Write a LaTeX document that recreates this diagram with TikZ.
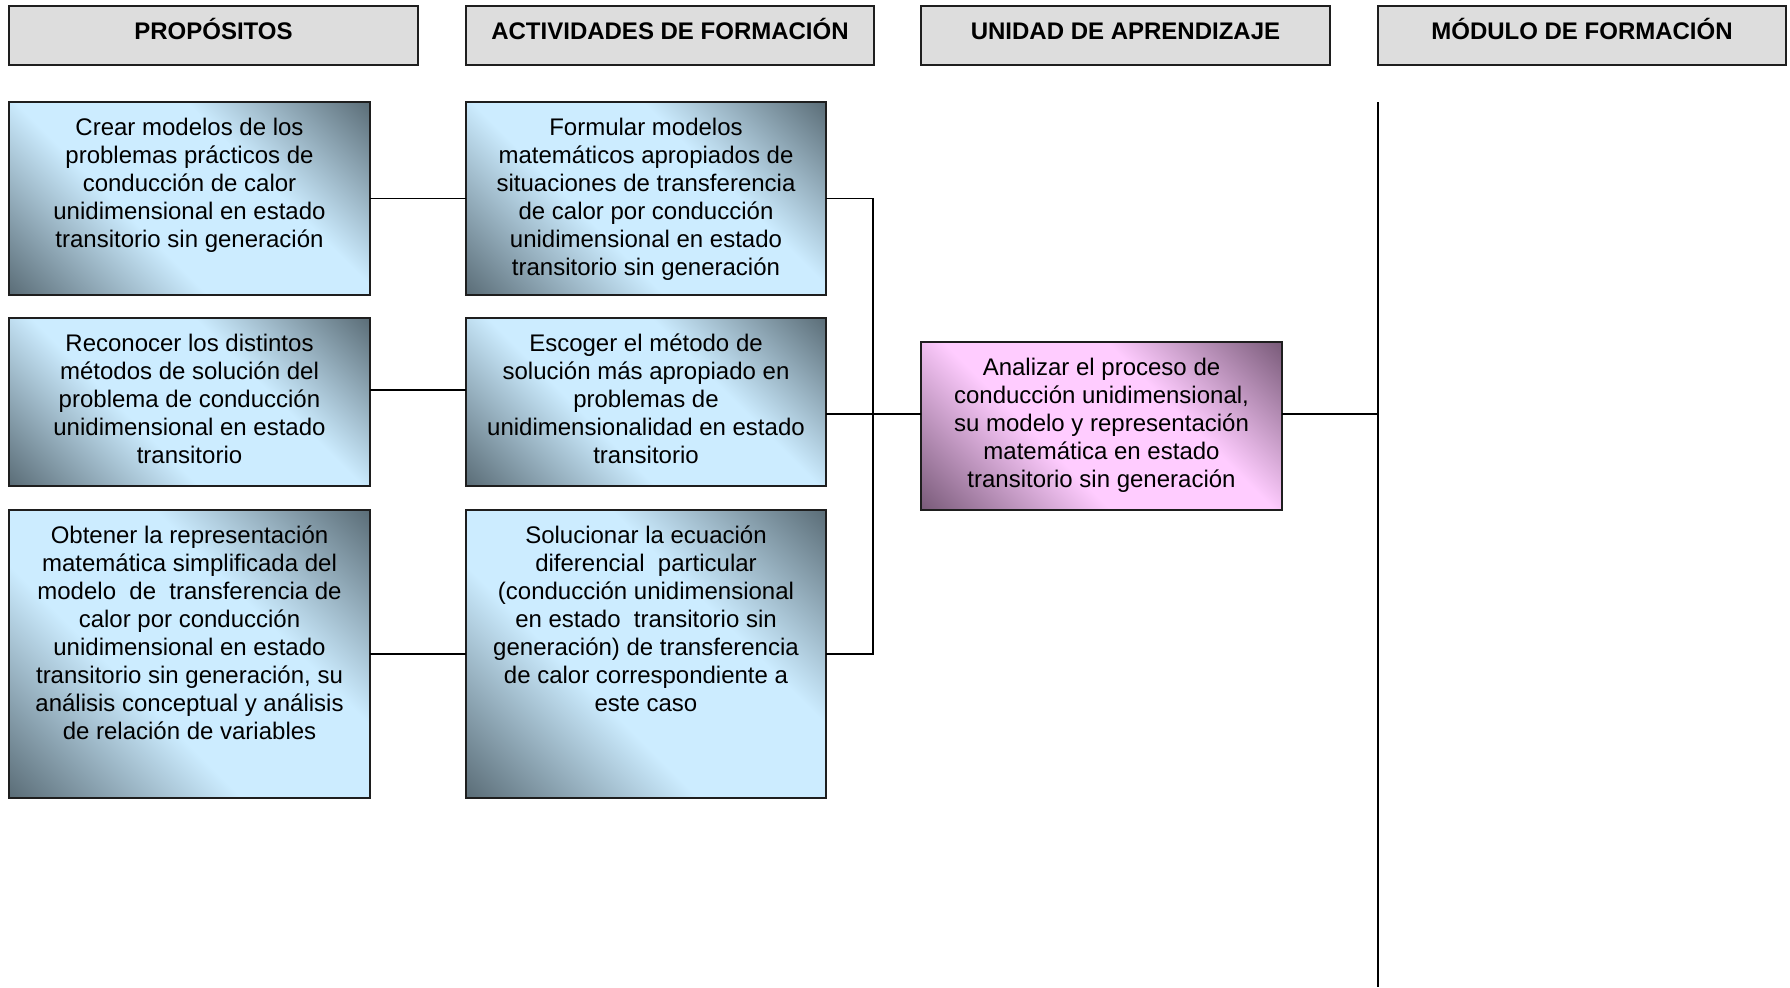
\documentclass[tikz,border=0pt]{standalone}
\usepackage{fontspec}
\setmainfont{Liberation Sans}
\definecolor{blight}{RGB}{204,236,255}
\definecolor{bdark}{RGB}{88,106,116}
\definecolor{plight}{RGB}{255,204,255}
\definecolor{pdark}{RGB}{118,88,118}
\definecolor{hdrfill}{RGB}{221,221,221}
\definecolor{edge}{RGB}{30,30,30}
\pgfdeclareverticalshading{bluediag}{100bp}{color(0bp)=(bdark); color(14bp)=(bdark); color(40bp)=(blight); color(62bp)=(blight); color(86bp)=(bdark); color(100bp)=(bdark)}
\pgfdeclareverticalshading{pinkdiag}{100bp}{color(0bp)=(pdark); color(14bp)=(pdark); color(40bp)=(plight); color(62bp)=(plight); color(86bp)=(pdark); color(100bp)=(pdark)}
\newcommand\bxt[3]{\parbox[c][#1][t]{#2}{\vspace*{13.4bp}\centering\strut #3}}
\begin{document}
\begin{tikzpicture}[x=1bp,y=-1bp,
  every node/.style={font=\fontsize{24bp}{28bp}\selectfont, inner sep=0pt, outer sep=0pt},
  hdr/.style={draw=edge, line width=2bp, fill=hdrfill, anchor=north west,
    minimum height=59bp, text height=17bp, text depth=9bp, font=\fontsize{24bp}{28bp}\selectfont\bfseries},
  bluebox/.style={draw=edge, line width=2bp, anchor=north west, shading=bluediag, shading angle=-45},
  pinkbox/.style={draw=edge, line width=2bp, anchor=north west, shading=pinkdiag, shading angle=-45},
  conn/.style={line width=1.6bp, black}]
\useasboundingbox (0,0) rectangle (1790,987);

% headers
\node[hdr, minimum width=409bp] (h1) at (9,6) {PROPÓSITOS};
\node[hdr, minimum width=408bp] (h2) at (466,6) {ACTIVIDADES DE FORMACIÓN};
\node[hdr, minimum width=409bp] (h3) at (921,6) {UNIDAD DE APRENDIZAJE};
\node[hdr, minimum width=408bp] (h4) at (1378,6) {MÓDULO DE FORMACIÓN};

% propositos
\node[bluebox, minimum width=361bp, minimum height=193bp] (p1) at (9,102)
  {\bxt{193bp}{351bp}{Crear modelos de los\\problemas prácticos de\\conducción de calor\\unidimensional en estado\\transitorio sin generación}};
\node[bluebox, minimum width=361bp, minimum height=168bp] (p2) at (9,318)
  {\bxt{168bp}{351bp}{Reconocer los distintos\\métodos de solución del\\problema de conducción\\unidimensional en estado\\transitorio}};
\node[bluebox, minimum width=361bp, minimum height=288bp] (p3) at (9,510)
  {\bxt{288bp}{351bp}{Obtener la representación\\matemática simplificada del\\modelo\ \ de\ \ transferencia de\\calor por conducción\\unidimensional en estado\\transitorio sin generación, su\\análisis conceptual y análisis\\de relación de variables}};

% actividades
\node[bluebox, minimum width=360bp, minimum height=193bp] (a1) at (466,102)
  {\bxt{193bp}{350bp}{Formular modelos\\matemáticos apropiados de\\situaciones de transferencia\\de calor por conducción\\unidimensional en estado\\transitorio sin generación}};
\node[bluebox, minimum width=360bp, minimum height=168bp] (a2) at (466,318)
  {\bxt{168bp}{350bp}{Escoger el método de\\solución más apropiado en\\problemas de\\unidimensionalidad en estado\\transitorio}};
\node[bluebox, minimum width=360bp, minimum height=288bp] (a3) at (466,510)
  {\bxt{288bp}{350bp}{Solucionar la ecuación\\diferencial\ \ particular\\(conducción unidimensional\\en estado\ \ transitorio sin\\generación) de transferencia\\de calor correspondiente a\\este caso}};

% unidad
\node[pinkbox, minimum width=361bp, minimum height=168bp] (u) at (921,342)
  {\bxt{168bp}{351bp}{Analizar el proceso de\\conducción unidimensional,\\su modelo y representación\\matemática en estado\\transitorio sin generación}};

\coordinate (bus) at (873,0);
\coordinate (vt) at (1378,102);
\coordinate (vb) at (1378,987);

% connectors
\draw[conn] (p1.east) -- (a1.west);
\draw[conn] ([yshift=12bp]p2.east) -- ([yshift=12bp]a2.west);
\draw[conn] (p3.east) -- (a3.west);
\draw[conn] (a1.east) -- (a1.east -| bus) -- (a3.east -| bus) -- (a3.east);
\draw[conn] ([yshift=-12bp]a2.east) -- ([yshift=12bp]u.west);
\draw[conn] ([yshift=12bp]u.east) -- ([yshift=12bp]u.east -| vt);
\draw[line width=2bp] (vt) -- (vb);
\end{tikzpicture}
\end{document}
